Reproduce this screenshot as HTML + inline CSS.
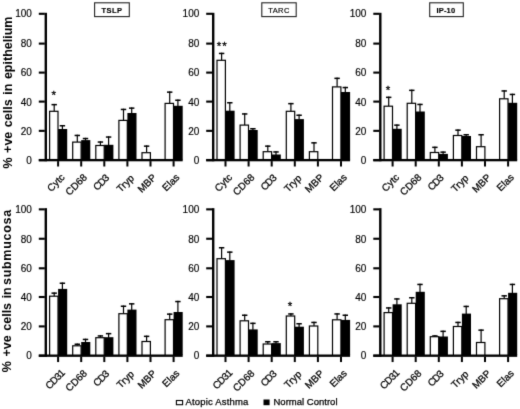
<!DOCTYPE html>
<html><head><meta charset="utf-8"><title>Figure</title>
<style>
html,body{margin:0;padding:0;background:#fff;}
body{width:520px;height:409px;overflow:hidden;font-family:"Liberation Sans",sans-serif;}
svg{display:block;font-family:"Liberation Sans",sans-serif;}
.yl{font-size:10px;fill:#000;stroke:#000;stroke-width:0.15px;}
.xl{font-size:10px;fill:#000;stroke:#000;stroke-width:0.25px;}
.bx{font-size:7.5px;fill:#000;letter-spacing:0.4px;stroke:#000;stroke-width:0.15px;}
.st{font-size:11.5px;fill:#000;stroke:#000;stroke-width:0.3px;}
.yt{font-size:12.5px;fill:#000;font-weight:bold;word-spacing:1.1px;}
.lg{font-size:9.5px;fill:#000;stroke:#000;stroke-width:0.25px;}
</style></head><body>
<svg width="520" height="409" viewBox="0 0 520 409">
<defs><filter id="soft" x="0" y="0" width="520" height="409" filterUnits="userSpaceOnUse" color-interpolation-filters="sRGB">
<feConvolveMatrix order="3" kernelMatrix="0.012 0.085 0.012 0.085 0.612 0.085 0.012 0.085 0.012" divisor="1" edgeMode="duplicate" preserveAlpha="true"/>
</filter></defs>
<g filter="url(#soft)">
<rect x="0" y="0" width="520" height="409" fill="#fff"/>
<rect x="44.60" y="12.80" width="2.40" height="148.50" fill="#000"/>
<rect x="38.80" y="12.75" width="6.00" height="2.10" fill="#000"/>
<text x="31.90" y="17" text-anchor="end" class="yl">100</text>
<rect x="38.80" y="42.55" width="6.00" height="2.10" fill="#000"/>
<text x="31.90" y="47" text-anchor="end" class="yl">80</text>
<rect x="38.80" y="71.55" width="6.00" height="2.10" fill="#000"/>
<text x="31.90" y="76" text-anchor="end" class="yl">60</text>
<rect x="38.80" y="100.55" width="6.00" height="2.10" fill="#000"/>
<text x="31.90" y="106" text-anchor="end" class="yl">40</text>
<rect x="38.80" y="129.80" width="6.00" height="2.10" fill="#000"/>
<text x="31.90" y="135" text-anchor="end" class="yl">20</text>
<rect x="38.80" y="159.10" width="6.00" height="2.10" fill="#000"/>
<text x="31.90" y="164" text-anchor="end" class="yl">0</text>
<rect x="38.80" y="158.95" width="143.90" height="2.35" fill="#000"/>
<rect x="57.10" y="161.10" width="2.00" height="5.40" fill="#000"/>
<rect x="53.60" y="103.90" width="1.20" height="7.30" fill="#000"/>
<rect x="51.50" y="103.90" width="5.40" height="1.50" fill="#000"/>
<rect x="49.60" y="111.30" width="8.40" height="48.25" fill="#fff" stroke="#000" stroke-width="1.2"/>
<rect x="61.80" y="125.00" width="1.20" height="4.50" fill="#000"/>
<rect x="59.70" y="125.00" width="5.40" height="1.50" fill="#000"/>
<rect x="58.10" y="129.00" width="9.10" height="30.45" fill="#000"/>
<text transform="translate(65.40,178.00) rotate(-45)" text-anchor="end" class="xl">Cytc</text>
<rect x="80.20" y="161.10" width="2.00" height="5.40" fill="#000"/>
<rect x="76.70" y="134.70" width="1.20" height="7.30" fill="#000"/>
<rect x="74.60" y="134.70" width="5.40" height="1.50" fill="#000"/>
<rect x="72.70" y="142.10" width="8.40" height="17.45" fill="#fff" stroke="#000" stroke-width="1.2"/>
<rect x="84.90" y="137.80" width="1.20" height="2.80" fill="#000"/>
<rect x="82.80" y="137.80" width="5.40" height="1.50" fill="#000"/>
<rect x="81.20" y="140.10" width="9.10" height="19.35" fill="#000"/>
<text transform="translate(87.70,178.00) rotate(-45)" text-anchor="end" class="xl">CD68</text>
<rect x="103.30" y="161.10" width="2.00" height="5.40" fill="#000"/>
<rect x="99.80" y="141.30" width="1.20" height="4.10" fill="#000"/>
<rect x="97.70" y="141.30" width="5.40" height="1.50" fill="#000"/>
<rect x="95.80" y="145.50" width="8.40" height="14.05" fill="#fff" stroke="#000" stroke-width="1.2"/>
<rect x="108.00" y="136.30" width="1.20" height="9.00" fill="#000"/>
<rect x="105.90" y="136.30" width="5.40" height="1.50" fill="#000"/>
<rect x="104.30" y="144.80" width="9.10" height="14.65" fill="#000"/>
<text transform="translate(109.30,179.00) rotate(-45)" text-anchor="end" class="xl" style="letter-spacing:-1px">CD3</text>
<rect x="126.40" y="161.10" width="2.00" height="5.40" fill="#000"/>
<rect x="122.90" y="108.70" width="1.20" height="11.60" fill="#000"/>
<rect x="120.80" y="108.70" width="5.40" height="1.50" fill="#000"/>
<rect x="118.90" y="120.40" width="8.40" height="39.15" fill="#fff" stroke="#000" stroke-width="1.2"/>
<rect x="131.10" y="107.40" width="1.20" height="6.10" fill="#000"/>
<rect x="129.00" y="107.40" width="5.40" height="1.50" fill="#000"/>
<rect x="127.40" y="113.00" width="9.10" height="46.45" fill="#000"/>
<text transform="translate(134.70,178.80) rotate(-45)" text-anchor="end" class="xl">Tryp</text>
<rect x="149.50" y="161.10" width="2.00" height="5.40" fill="#000"/>
<rect x="146.00" y="145.40" width="1.20" height="7.20" fill="#000"/>
<rect x="143.90" y="145.40" width="5.40" height="1.50" fill="#000"/>
<rect x="142.00" y="152.70" width="8.40" height="6.85" fill="#fff" stroke="#000" stroke-width="1.2"/>
<text transform="translate(157.00,178.00) rotate(-45)" text-anchor="end" class="xl">MBP</text>
<rect x="172.60" y="161.10" width="2.00" height="5.40" fill="#000"/>
<rect x="169.10" y="91.40" width="1.20" height="11.90" fill="#000"/>
<rect x="167.00" y="91.40" width="5.40" height="1.50" fill="#000"/>
<rect x="165.10" y="103.40" width="8.40" height="56.15" fill="#fff" stroke="#000" stroke-width="1.2"/>
<rect x="177.30" y="99.50" width="1.20" height="6.80" fill="#000"/>
<rect x="175.20" y="99.50" width="5.40" height="1.50" fill="#000"/>
<rect x="173.60" y="105.80" width="9.10" height="53.65" fill="#000"/>
<text transform="translate(180.10,178.00) rotate(-45)" text-anchor="end" class="xl">Elas</text>
<rect x="212.00" y="12.80" width="2.40" height="148.50" fill="#000"/>
<rect x="206.20" y="12.75" width="6.00" height="2.10" fill="#000"/>
<text x="199.30" y="17" text-anchor="end" class="yl">100</text>
<rect x="206.20" y="42.55" width="6.00" height="2.10" fill="#000"/>
<text x="199.30" y="47" text-anchor="end" class="yl">80</text>
<rect x="206.20" y="71.55" width="6.00" height="2.10" fill="#000"/>
<text x="199.30" y="76" text-anchor="end" class="yl">60</text>
<rect x="206.20" y="100.55" width="6.00" height="2.10" fill="#000"/>
<text x="199.30" y="106" text-anchor="end" class="yl">40</text>
<rect x="206.20" y="129.80" width="6.00" height="2.10" fill="#000"/>
<text x="199.30" y="135" text-anchor="end" class="yl">20</text>
<rect x="206.20" y="159.10" width="6.00" height="2.10" fill="#000"/>
<text x="199.30" y="164" text-anchor="end" class="yl">0</text>
<rect x="206.20" y="158.95" width="143.90" height="2.35" fill="#000"/>
<rect x="224.50" y="161.10" width="2.00" height="5.40" fill="#000"/>
<rect x="221.00" y="52.70" width="1.20" height="7.50" fill="#000"/>
<rect x="218.90" y="52.70" width="5.40" height="1.50" fill="#000"/>
<rect x="217.00" y="60.30" width="8.40" height="99.25" fill="#fff" stroke="#000" stroke-width="1.2"/>
<rect x="229.20" y="102.00" width="1.20" height="9.20" fill="#000"/>
<rect x="227.10" y="102.00" width="5.40" height="1.50" fill="#000"/>
<rect x="225.50" y="110.70" width="9.10" height="48.75" fill="#000"/>
<text transform="translate(232.80,178.00) rotate(-45)" text-anchor="end" class="xl">Cytc</text>
<rect x="247.60" y="161.10" width="2.00" height="5.40" fill="#000"/>
<rect x="244.10" y="113.20" width="1.20" height="11.80" fill="#000"/>
<rect x="242.00" y="113.20" width="5.40" height="1.50" fill="#000"/>
<rect x="240.10" y="125.10" width="8.40" height="34.45" fill="#fff" stroke="#000" stroke-width="1.2"/>
<rect x="252.30" y="128.00" width="1.20" height="2.50" fill="#000"/>
<rect x="250.20" y="128.00" width="5.40" height="1.50" fill="#000"/>
<rect x="248.60" y="130.00" width="9.10" height="29.45" fill="#000"/>
<text transform="translate(255.10,178.00) rotate(-45)" text-anchor="end" class="xl">CD68</text>
<rect x="270.70" y="161.10" width="2.00" height="5.40" fill="#000"/>
<rect x="267.20" y="145.40" width="1.20" height="6.20" fill="#000"/>
<rect x="265.10" y="145.40" width="5.40" height="1.50" fill="#000"/>
<rect x="263.20" y="151.70" width="8.40" height="7.85" fill="#fff" stroke="#000" stroke-width="1.2"/>
<rect x="275.40" y="151.20" width="1.20" height="3.80" fill="#000"/>
<rect x="273.30" y="151.20" width="5.40" height="1.50" fill="#000"/>
<rect x="271.70" y="154.50" width="9.10" height="4.95" fill="#000"/>
<text transform="translate(276.70,179.00) rotate(-45)" text-anchor="end" class="xl" style="letter-spacing:-1px">CD3</text>
<rect x="293.80" y="161.10" width="2.00" height="5.40" fill="#000"/>
<rect x="290.30" y="102.90" width="1.20" height="8.30" fill="#000"/>
<rect x="288.20" y="102.90" width="5.40" height="1.50" fill="#000"/>
<rect x="286.30" y="111.30" width="8.40" height="48.25" fill="#fff" stroke="#000" stroke-width="1.2"/>
<rect x="298.50" y="114.50" width="1.20" height="5.10" fill="#000"/>
<rect x="296.40" y="114.50" width="5.40" height="1.50" fill="#000"/>
<rect x="294.80" y="119.10" width="9.10" height="40.35" fill="#000"/>
<text transform="translate(302.10,178.80) rotate(-45)" text-anchor="end" class="xl">Tryp</text>
<rect x="316.90" y="161.10" width="2.00" height="5.40" fill="#000"/>
<rect x="313.40" y="142.10" width="1.20" height="9.50" fill="#000"/>
<rect x="311.30" y="142.10" width="5.40" height="1.50" fill="#000"/>
<rect x="309.40" y="151.70" width="8.40" height="7.85" fill="#fff" stroke="#000" stroke-width="1.2"/>
<text transform="translate(324.40,178.00) rotate(-45)" text-anchor="end" class="xl">MBP</text>
<rect x="340.00" y="161.10" width="2.00" height="5.40" fill="#000"/>
<rect x="336.50" y="77.60" width="1.20" height="9.20" fill="#000"/>
<rect x="334.40" y="77.60" width="5.40" height="1.50" fill="#000"/>
<rect x="332.50" y="86.90" width="8.40" height="72.65" fill="#fff" stroke="#000" stroke-width="1.2"/>
<rect x="344.70" y="86.80" width="1.20" height="5.70" fill="#000"/>
<rect x="342.60" y="86.80" width="5.40" height="1.50" fill="#000"/>
<rect x="341.00" y="92.00" width="9.10" height="67.45" fill="#000"/>
<text transform="translate(347.50,178.00) rotate(-45)" text-anchor="end" class="xl">Elas</text>
<rect x="379.10" y="12.80" width="2.40" height="148.50" fill="#000"/>
<rect x="373.30" y="12.75" width="6.00" height="2.10" fill="#000"/>
<text x="366.40" y="17" text-anchor="end" class="yl">100</text>
<rect x="373.30" y="42.55" width="6.00" height="2.10" fill="#000"/>
<text x="366.40" y="47" text-anchor="end" class="yl">80</text>
<rect x="373.30" y="71.55" width="6.00" height="2.10" fill="#000"/>
<text x="366.40" y="76" text-anchor="end" class="yl">60</text>
<rect x="373.30" y="100.55" width="6.00" height="2.10" fill="#000"/>
<text x="366.40" y="106" text-anchor="end" class="yl">40</text>
<rect x="373.30" y="129.80" width="6.00" height="2.10" fill="#000"/>
<text x="366.40" y="135" text-anchor="end" class="yl">20</text>
<rect x="373.30" y="159.10" width="6.00" height="2.10" fill="#000"/>
<text x="366.40" y="164" text-anchor="end" class="yl">0</text>
<rect x="373.30" y="158.95" width="143.90" height="2.35" fill="#000"/>
<rect x="391.60" y="161.10" width="2.00" height="5.40" fill="#000"/>
<rect x="388.10" y="96.60" width="1.20" height="9.50" fill="#000"/>
<rect x="386.00" y="96.60" width="5.40" height="1.50" fill="#000"/>
<rect x="384.10" y="106.20" width="8.40" height="53.35" fill="#fff" stroke="#000" stroke-width="1.2"/>
<rect x="396.30" y="124.40" width="1.20" height="4.90" fill="#000"/>
<rect x="394.20" y="124.40" width="5.40" height="1.50" fill="#000"/>
<rect x="392.60" y="128.80" width="9.10" height="30.65" fill="#000"/>
<text transform="translate(399.90,178.00) rotate(-45)" text-anchor="end" class="xl">Cytc</text>
<rect x="414.70" y="161.10" width="2.00" height="5.40" fill="#000"/>
<rect x="411.20" y="89.60" width="1.20" height="13.60" fill="#000"/>
<rect x="409.10" y="89.60" width="5.40" height="1.50" fill="#000"/>
<rect x="407.20" y="103.30" width="8.40" height="56.25" fill="#fff" stroke="#000" stroke-width="1.2"/>
<rect x="419.40" y="103.70" width="1.20" height="8.30" fill="#000"/>
<rect x="417.30" y="103.70" width="5.40" height="1.50" fill="#000"/>
<rect x="415.70" y="111.50" width="9.10" height="47.95" fill="#000"/>
<text transform="translate(422.20,178.00) rotate(-45)" text-anchor="end" class="xl">CD68</text>
<rect x="437.80" y="161.10" width="2.00" height="5.40" fill="#000"/>
<rect x="434.30" y="146.60" width="1.20" height="5.80" fill="#000"/>
<rect x="432.20" y="146.60" width="5.40" height="1.50" fill="#000"/>
<rect x="430.30" y="152.50" width="8.40" height="7.05" fill="#fff" stroke="#000" stroke-width="1.2"/>
<rect x="442.50" y="151.40" width="1.20" height="3.00" fill="#000"/>
<rect x="440.40" y="151.40" width="5.40" height="1.50" fill="#000"/>
<rect x="438.80" y="153.90" width="9.10" height="5.55" fill="#000"/>
<text transform="translate(443.80,179.00) rotate(-45)" text-anchor="end" class="xl" style="letter-spacing:-1px">CD3</text>
<rect x="460.90" y="161.10" width="2.00" height="5.40" fill="#000"/>
<rect x="457.40" y="129.40" width="1.20" height="6.00" fill="#000"/>
<rect x="455.30" y="129.40" width="5.40" height="1.50" fill="#000"/>
<rect x="453.40" y="135.50" width="8.40" height="24.05" fill="#fff" stroke="#000" stroke-width="1.2"/>
<rect x="465.60" y="134.00" width="1.20" height="2.50" fill="#000"/>
<rect x="463.50" y="134.00" width="5.40" height="1.50" fill="#000"/>
<rect x="461.90" y="136.00" width="9.10" height="23.45" fill="#000"/>
<text transform="translate(469.20,178.80) rotate(-45)" text-anchor="end" class="xl">Tryp</text>
<rect x="484.00" y="161.10" width="2.00" height="5.40" fill="#000"/>
<rect x="480.50" y="134.00" width="1.20" height="12.60" fill="#000"/>
<rect x="478.40" y="134.00" width="5.40" height="1.50" fill="#000"/>
<rect x="476.50" y="146.70" width="8.40" height="12.85" fill="#fff" stroke="#000" stroke-width="1.2"/>
<text transform="translate(491.50,178.00) rotate(-45)" text-anchor="end" class="xl">MBP</text>
<rect x="507.10" y="161.10" width="2.00" height="5.40" fill="#000"/>
<rect x="503.60" y="90.20" width="1.20" height="8.50" fill="#000"/>
<rect x="501.50" y="90.20" width="5.40" height="1.50" fill="#000"/>
<rect x="499.60" y="98.80" width="8.40" height="60.75" fill="#fff" stroke="#000" stroke-width="1.2"/>
<rect x="511.80" y="93.70" width="1.20" height="9.60" fill="#000"/>
<rect x="509.70" y="93.70" width="5.40" height="1.50" fill="#000"/>
<rect x="508.10" y="102.80" width="9.10" height="56.65" fill="#000"/>
<text transform="translate(514.60,178.00) rotate(-45)" text-anchor="end" class="xl">Elas</text>
<rect x="44.60" y="208.15" width="2.40" height="148.70" fill="#000"/>
<rect x="38.80" y="208.30" width="6.00" height="2.10" fill="#000"/>
<text x="31.90" y="213" text-anchor="end" class="yl">100</text>
<rect x="38.80" y="237.70" width="6.00" height="2.10" fill="#000"/>
<text x="31.90" y="243" text-anchor="end" class="yl">80</text>
<rect x="38.80" y="267.25" width="6.00" height="2.10" fill="#000"/>
<text x="31.90" y="272" text-anchor="end" class="yl">60</text>
<rect x="38.80" y="295.95" width="6.00" height="2.10" fill="#000"/>
<text x="31.90" y="301" text-anchor="end" class="yl">40</text>
<rect x="38.80" y="325.35" width="6.00" height="2.10" fill="#000"/>
<text x="31.90" y="330" text-anchor="end" class="yl">20</text>
<rect x="38.80" y="354.65" width="6.00" height="2.10" fill="#000"/>
<text x="31.90" y="359" text-anchor="end" class="yl">0</text>
<rect x="38.80" y="354.50" width="143.90" height="2.35" fill="#000"/>
<rect x="57.10" y="356.65" width="2.00" height="5.40" fill="#000"/>
<rect x="53.60" y="292.40" width="1.20" height="3.70" fill="#000"/>
<rect x="51.50" y="292.40" width="5.40" height="1.50" fill="#000"/>
<rect x="49.60" y="296.20" width="8.40" height="58.90" fill="#fff" stroke="#000" stroke-width="1.2"/>
<rect x="61.80" y="282.50" width="1.20" height="6.90" fill="#000"/>
<rect x="59.70" y="282.50" width="5.40" height="1.50" fill="#000"/>
<rect x="58.10" y="288.90" width="9.10" height="66.10" fill="#000"/>
<text transform="translate(65.20,374.00) rotate(-45)" text-anchor="end" class="xl" style="letter-spacing:-0.8px">CD31</text>
<rect x="80.20" y="356.65" width="2.00" height="5.40" fill="#000"/>
<rect x="76.70" y="343.50" width="1.20" height="2.20" fill="#000"/>
<rect x="74.60" y="343.50" width="5.40" height="1.50" fill="#000"/>
<rect x="72.70" y="345.80" width="8.40" height="9.30" fill="#fff" stroke="#000" stroke-width="1.2"/>
<rect x="84.90" y="338.70" width="1.20" height="3.80" fill="#000"/>
<rect x="82.80" y="338.70" width="5.40" height="1.50" fill="#000"/>
<rect x="81.20" y="342.00" width="9.10" height="13.00" fill="#000"/>
<text transform="translate(87.70,374.00) rotate(-45)" text-anchor="end" class="xl">CD68</text>
<rect x="103.30" y="356.65" width="2.00" height="5.40" fill="#000"/>
<rect x="99.80" y="335.20" width="1.20" height="2.40" fill="#000"/>
<rect x="97.70" y="335.20" width="5.40" height="1.50" fill="#000"/>
<rect x="95.80" y="337.70" width="8.40" height="17.40" fill="#fff" stroke="#000" stroke-width="1.2"/>
<rect x="108.00" y="332.90" width="1.20" height="4.80" fill="#000"/>
<rect x="105.90" y="332.90" width="5.40" height="1.50" fill="#000"/>
<rect x="104.30" y="337.20" width="9.10" height="17.80" fill="#000"/>
<text transform="translate(109.30,375.00) rotate(-45)" text-anchor="end" class="xl" style="letter-spacing:-1px">CD3</text>
<rect x="126.40" y="356.65" width="2.00" height="5.40" fill="#000"/>
<rect x="122.90" y="305.50" width="1.20" height="8.10" fill="#000"/>
<rect x="120.80" y="305.50" width="5.40" height="1.50" fill="#000"/>
<rect x="118.90" y="313.70" width="8.40" height="41.40" fill="#fff" stroke="#000" stroke-width="1.2"/>
<rect x="131.10" y="303.10" width="1.20" height="7.00" fill="#000"/>
<rect x="129.00" y="303.10" width="5.40" height="1.50" fill="#000"/>
<rect x="127.40" y="309.60" width="9.10" height="45.40" fill="#000"/>
<text transform="translate(134.70,374.80) rotate(-45)" text-anchor="end" class="xl">Tryp</text>
<rect x="149.50" y="356.65" width="2.00" height="5.40" fill="#000"/>
<rect x="146.00" y="335.60" width="1.20" height="5.80" fill="#000"/>
<rect x="143.90" y="335.60" width="5.40" height="1.50" fill="#000"/>
<rect x="142.00" y="341.50" width="8.40" height="13.60" fill="#fff" stroke="#000" stroke-width="1.2"/>
<text transform="translate(157.00,374.00) rotate(-45)" text-anchor="end" class="xl">MBP</text>
<rect x="172.60" y="356.65" width="2.00" height="5.40" fill="#000"/>
<rect x="169.10" y="313.40" width="1.20" height="6.20" fill="#000"/>
<rect x="167.00" y="313.40" width="5.40" height="1.50" fill="#000"/>
<rect x="165.10" y="319.70" width="8.40" height="35.40" fill="#fff" stroke="#000" stroke-width="1.2"/>
<rect x="177.30" y="300.80" width="1.20" height="11.70" fill="#000"/>
<rect x="175.20" y="300.80" width="5.40" height="1.50" fill="#000"/>
<rect x="173.60" y="312.00" width="9.10" height="43.00" fill="#000"/>
<text transform="translate(180.10,374.00) rotate(-45)" text-anchor="end" class="xl">Elas</text>
<rect x="212.00" y="208.15" width="2.40" height="148.70" fill="#000"/>
<rect x="206.20" y="208.30" width="6.00" height="2.10" fill="#000"/>
<text x="199.30" y="213" text-anchor="end" class="yl">100</text>
<rect x="206.20" y="237.70" width="6.00" height="2.10" fill="#000"/>
<text x="199.30" y="243" text-anchor="end" class="yl">80</text>
<rect x="206.20" y="267.25" width="6.00" height="2.10" fill="#000"/>
<text x="199.30" y="272" text-anchor="end" class="yl">60</text>
<rect x="206.20" y="295.95" width="6.00" height="2.10" fill="#000"/>
<text x="199.30" y="301" text-anchor="end" class="yl">40</text>
<rect x="206.20" y="325.35" width="6.00" height="2.10" fill="#000"/>
<text x="199.30" y="330" text-anchor="end" class="yl">20</text>
<rect x="206.20" y="354.65" width="6.00" height="2.10" fill="#000"/>
<text x="199.30" y="359" text-anchor="end" class="yl">0</text>
<rect x="206.20" y="354.50" width="143.90" height="2.35" fill="#000"/>
<rect x="224.50" y="356.65" width="2.00" height="5.40" fill="#000"/>
<rect x="221.00" y="247.00" width="1.20" height="11.60" fill="#000"/>
<rect x="218.90" y="247.00" width="5.40" height="1.50" fill="#000"/>
<rect x="217.00" y="258.70" width="8.40" height="96.40" fill="#fff" stroke="#000" stroke-width="1.2"/>
<rect x="229.20" y="251.40" width="1.20" height="9.20" fill="#000"/>
<rect x="227.10" y="251.40" width="5.40" height="1.50" fill="#000"/>
<rect x="225.50" y="260.10" width="9.10" height="94.90" fill="#000"/>
<text transform="translate(232.60,374.00) rotate(-45)" text-anchor="end" class="xl" style="letter-spacing:-0.8px">CD31</text>
<rect x="247.60" y="356.65" width="2.00" height="5.40" fill="#000"/>
<rect x="244.10" y="314.50" width="1.20" height="6.20" fill="#000"/>
<rect x="242.00" y="314.50" width="5.40" height="1.50" fill="#000"/>
<rect x="240.10" y="320.80" width="8.40" height="34.30" fill="#fff" stroke="#000" stroke-width="1.2"/>
<rect x="252.30" y="322.60" width="1.20" height="7.30" fill="#000"/>
<rect x="250.20" y="322.60" width="5.40" height="1.50" fill="#000"/>
<rect x="248.60" y="329.40" width="9.10" height="25.60" fill="#000"/>
<text transform="translate(255.10,374.00) rotate(-45)" text-anchor="end" class="xl">CD68</text>
<rect x="270.70" y="356.65" width="2.00" height="5.40" fill="#000"/>
<rect x="267.20" y="341.00" width="1.20" height="2.90" fill="#000"/>
<rect x="265.10" y="341.00" width="5.40" height="1.50" fill="#000"/>
<rect x="263.20" y="344.00" width="8.40" height="11.10" fill="#fff" stroke="#000" stroke-width="1.2"/>
<rect x="275.40" y="341.00" width="1.20" height="2.60" fill="#000"/>
<rect x="273.30" y="341.00" width="5.40" height="1.50" fill="#000"/>
<rect x="271.70" y="343.10" width="9.10" height="11.90" fill="#000"/>
<text transform="translate(276.70,375.00) rotate(-45)" text-anchor="end" class="xl" style="letter-spacing:-1px">CD3</text>
<rect x="293.80" y="356.65" width="2.00" height="5.40" fill="#000"/>
<rect x="290.30" y="313.20" width="1.20" height="2.70" fill="#000"/>
<rect x="288.20" y="313.20" width="5.40" height="1.50" fill="#000"/>
<rect x="286.30" y="316.00" width="8.40" height="39.10" fill="#fff" stroke="#000" stroke-width="1.2"/>
<rect x="298.50" y="323.00" width="1.20" height="4.20" fill="#000"/>
<rect x="296.40" y="323.00" width="5.40" height="1.50" fill="#000"/>
<rect x="294.80" y="326.70" width="9.10" height="28.30" fill="#000"/>
<text transform="translate(302.10,374.80) rotate(-45)" text-anchor="end" class="xl">Tryp</text>
<rect x="316.90" y="356.65" width="2.00" height="5.40" fill="#000"/>
<rect x="313.40" y="321.70" width="1.20" height="4.20" fill="#000"/>
<rect x="311.30" y="321.70" width="5.40" height="1.50" fill="#000"/>
<rect x="309.40" y="326.00" width="8.40" height="29.10" fill="#fff" stroke="#000" stroke-width="1.2"/>
<text transform="translate(324.40,374.00) rotate(-45)" text-anchor="end" class="xl">MBP</text>
<rect x="340.00" y="356.65" width="2.00" height="5.40" fill="#000"/>
<rect x="336.50" y="313.20" width="1.20" height="6.50" fill="#000"/>
<rect x="334.40" y="313.20" width="5.40" height="1.50" fill="#000"/>
<rect x="332.50" y="319.80" width="8.40" height="35.30" fill="#fff" stroke="#000" stroke-width="1.2"/>
<rect x="344.70" y="314.50" width="1.20" height="5.90" fill="#000"/>
<rect x="342.60" y="314.50" width="5.40" height="1.50" fill="#000"/>
<rect x="341.00" y="319.90" width="9.10" height="35.10" fill="#000"/>
<text transform="translate(347.50,374.00) rotate(-45)" text-anchor="end" class="xl">Elas</text>
<rect x="379.10" y="208.15" width="2.40" height="148.70" fill="#000"/>
<rect x="373.30" y="208.30" width="6.00" height="2.10" fill="#000"/>
<text x="366.40" y="213" text-anchor="end" class="yl">100</text>
<rect x="373.30" y="237.70" width="6.00" height="2.10" fill="#000"/>
<text x="366.40" y="243" text-anchor="end" class="yl">80</text>
<rect x="373.30" y="267.25" width="6.00" height="2.10" fill="#000"/>
<text x="366.40" y="272" text-anchor="end" class="yl">60</text>
<rect x="373.30" y="295.95" width="6.00" height="2.10" fill="#000"/>
<text x="366.40" y="301" text-anchor="end" class="yl">40</text>
<rect x="373.30" y="325.35" width="6.00" height="2.10" fill="#000"/>
<text x="366.40" y="330" text-anchor="end" class="yl">20</text>
<rect x="373.30" y="354.65" width="6.00" height="2.10" fill="#000"/>
<text x="366.40" y="359" text-anchor="end" class="yl">0</text>
<rect x="373.30" y="354.50" width="143.90" height="2.35" fill="#000"/>
<rect x="391.60" y="356.65" width="2.00" height="5.40" fill="#000"/>
<rect x="388.10" y="307.20" width="1.20" height="5.30" fill="#000"/>
<rect x="386.00" y="307.20" width="5.40" height="1.50" fill="#000"/>
<rect x="384.10" y="312.60" width="8.40" height="42.50" fill="#fff" stroke="#000" stroke-width="1.2"/>
<rect x="396.30" y="298.20" width="1.20" height="6.60" fill="#000"/>
<rect x="394.20" y="298.20" width="5.40" height="1.50" fill="#000"/>
<rect x="392.60" y="304.30" width="9.10" height="50.70" fill="#000"/>
<text transform="translate(399.70,374.00) rotate(-45)" text-anchor="end" class="xl" style="letter-spacing:-0.8px">CD31</text>
<rect x="414.70" y="356.65" width="2.00" height="5.40" fill="#000"/>
<rect x="411.20" y="297.00" width="1.20" height="6.20" fill="#000"/>
<rect x="409.10" y="297.00" width="5.40" height="1.50" fill="#000"/>
<rect x="407.20" y="303.30" width="8.40" height="51.80" fill="#fff" stroke="#000" stroke-width="1.2"/>
<rect x="419.40" y="283.70" width="1.20" height="8.60" fill="#000"/>
<rect x="417.30" y="283.70" width="5.40" height="1.50" fill="#000"/>
<rect x="415.70" y="291.80" width="9.10" height="63.20" fill="#000"/>
<text transform="translate(422.20,374.00) rotate(-45)" text-anchor="end" class="xl">CD68</text>
<rect x="437.80" y="356.65" width="2.00" height="5.40" fill="#000"/>
<rect x="434.30" y="335.20" width="1.20" height="1.40" fill="#000"/>
<rect x="432.20" y="335.20" width="5.40" height="1.50" fill="#000"/>
<rect x="430.30" y="336.70" width="8.40" height="18.40" fill="#fff" stroke="#000" stroke-width="1.2"/>
<rect x="442.50" y="330.60" width="1.20" height="6.40" fill="#000"/>
<rect x="440.40" y="330.60" width="5.40" height="1.50" fill="#000"/>
<rect x="438.80" y="336.50" width="9.10" height="18.50" fill="#000"/>
<text transform="translate(443.80,375.00) rotate(-45)" text-anchor="end" class="xl" style="letter-spacing:-1px">CD3</text>
<rect x="460.90" y="356.65" width="2.00" height="5.40" fill="#000"/>
<rect x="457.40" y="321.70" width="1.20" height="4.70" fill="#000"/>
<rect x="455.30" y="321.70" width="5.40" height="1.50" fill="#000"/>
<rect x="453.40" y="326.50" width="8.40" height="28.60" fill="#fff" stroke="#000" stroke-width="1.2"/>
<rect x="465.60" y="305.70" width="1.20" height="8.40" fill="#000"/>
<rect x="463.50" y="305.70" width="5.40" height="1.50" fill="#000"/>
<rect x="461.90" y="313.60" width="9.10" height="41.40" fill="#000"/>
<text transform="translate(469.20,374.80) rotate(-45)" text-anchor="end" class="xl">Tryp</text>
<rect x="484.00" y="356.65" width="2.00" height="5.40" fill="#000"/>
<rect x="480.50" y="329.40" width="1.20" height="13.00" fill="#000"/>
<rect x="478.40" y="329.40" width="5.40" height="1.50" fill="#000"/>
<rect x="476.50" y="342.50" width="8.40" height="12.60" fill="#fff" stroke="#000" stroke-width="1.2"/>
<text transform="translate(491.50,374.00) rotate(-45)" text-anchor="end" class="xl">MBP</text>
<rect x="507.10" y="356.65" width="2.00" height="5.40" fill="#000"/>
<rect x="503.60" y="295.10" width="1.20" height="3.50" fill="#000"/>
<rect x="501.50" y="295.10" width="5.40" height="1.50" fill="#000"/>
<rect x="499.60" y="298.70" width="8.40" height="56.40" fill="#fff" stroke="#000" stroke-width="1.2"/>
<rect x="511.80" y="283.70" width="1.20" height="9.60" fill="#000"/>
<rect x="509.70" y="283.70" width="5.40" height="1.50" fill="#000"/>
<rect x="508.10" y="292.80" width="9.10" height="62.20" fill="#000"/>
<text transform="translate(514.60,374.00) rotate(-45)" text-anchor="end" class="xl">Elas</text>
<rect x="94.60" y="2.8" width="34.70" height="13.8" fill="#fff" stroke="#222" stroke-width="1.1"/>
<text x="111.95" y="13" text-anchor="middle" class="bx" font-weight="bold">TSLP</text>
<rect x="261.80" y="2.8" width="34.40" height="13.8" fill="#fff" stroke="#222" stroke-width="1.1"/>
<text x="279.00" y="13" text-anchor="middle" class="bx">TARC</text>
<rect x="429.70" y="2.8" width="33.60" height="13.8" fill="#fff" stroke="#222" stroke-width="1.1"/>
<text x="445.90" y="13" text-anchor="middle" class="bx" font-weight="bold" style="letter-spacing:0.15px">IP-10</text>
<text x="53.70" y="99.00" text-anchor="middle" class="st">*</text>
<text x="222.30" y="50.00" text-anchor="middle" class="st" style="letter-spacing:1px">**</text>
<text x="388.10" y="94.00" text-anchor="middle" class="st">*</text>
<text x="290.10" y="310.20" text-anchor="middle" class="st">*</text>
<text transform="translate(12.3,168.6) rotate(-90)" class="yt">% +ve cells in epithelium</text>
<text transform="translate(11.4,372.2) rotate(-90)" class="yt">% +ve cells in<tspan dx="-3.0" style="letter-spacing:0.7px"> submucosa</tspan></text>
<rect x="176.4" y="400.5" width="6.2" height="4.2" fill="#fff" stroke="#000" stroke-width="1.1"/>
<text x="185.4" y="405.3" class="lg" textLength="63" lengthAdjust="spacing">Atopic Asthma</text>
<rect x="263.50" y="399.50" width="6.10" height="5.70" fill="#000"/>
<text x="273.5" y="405.3" class="lg" textLength="64" lengthAdjust="spacing">Normal Control</text>
</g>
</svg>
</body></html>
